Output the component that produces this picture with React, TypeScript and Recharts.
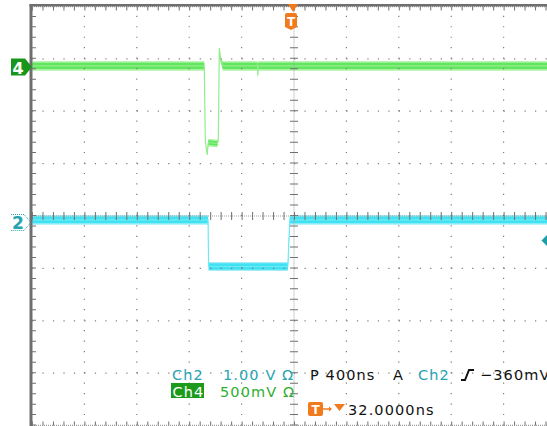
import { ComposedChart, Line, Area, XAxis, YAxis, ReferenceLine } from "recharts";

// Horizontal: 400 ns/div, trigger 32 ns right of centre -> 10 divisions from -1968 to 2032 ns
const TIME_DOMAIN: [number, number] = [-1968, 2032];
const MINOR = 10.48; // px between graticule dots (1/5 div)

// Ch4, 500 mV/div, ground marker 2.844 div above centre
const CH4_VPD = 0.5;
const CH4_POS = 2.844;
const ch4Time = [-1968, -653, -645, -631, -622, -553, -546, -538, -527, -511, -246, -244, -242, 2032];
const ch4Volts = [0.01, 0.01, -0.7, -0.84, -0.72, -0.73, -0.7, 0.18, 0.06, 0.01, 0.01, -0.08, 0.01, 0.01];
const ch4Fuzz = [0.045, 0.045, 0, 0, 0.036, 0.036, 0, 0, 0.02, 0.045, 0.045, 0.045, 0.045, 0.045];
const ch4Core = [0.03, 0.03, 0, 0, 0.022, 0.022, 0, 0, 0.01, 0.03, 0.03, 0.03, 0.03, 0.03];

// Ch2, 1.00 V/div, ground marker 0.134 div below centre
const CH2_VPD = 1;
const CH2_POS = -0.134;
const ch2Time = [-1968, -624, -620, -15, 0, 2032];
const ch2Volts = [0.06, 0.06, -0.83, -0.83, 0.06, 0.06];
const ch2Fuzz = [0.095, 0.095, 0.085, 0.085, 0.095, 0.095];
const ch2Core = [0.065, 0.065, 0.06, 0.06, 0.065, 0.065];

// graticule
const majorTimes = [-1568, -1168, -768, -368, 432, 832, 1232, 1632];
const majorDivs = [-3, -2, -1, 1, 2, 3];
const centreTime = 32;

const rows = (t: number[], v: number[], fz: number[], cr: number[]) =>
  t.map((x, i) => ({
    t: x,
    v: v[i],
    fuzz: [v[i] - fz[i], v[i] + fz[i]],
    core: [v[i] - cr[i], v[i] + cr[i]],
  }));

const ch4Rows = rows(ch4Time, ch4Volts, ch4Fuzz, ch4Core);
const ch2Rows = rows(ch2Time, ch2Volts, ch2Fuzz, ch2Core);

const domainFor = (pos: number, vpd: number): [number, number] => [(-4 - pos) * vpd, (4 - pos) * vpd];

const DOTS = `1.2 ${MINOR - 1.2}`;
const TICKS = `1 ${MINOR - 1}`;
const TEAL = "#27a4b2";
const GREEN = "#2fae2f";
const ORANGE = "#f07a1c";
const font = { fontFamily: "DejaVu Sans", fontSize: 14.5, letterSpacing: 1.1 };

export default function App() {
  return (
    <div style={{ position: "absolute", left: 0, top: 0, width: 547, height: 426, overflow: "hidden", background: "#fff" }}>
      <ComposedChart width={560} height={432} margin={{ top: 6.4, right: 4, bottom: 6.4, left: 32 }}>
        <XAxis type="number" dataKey="t" domain={TIME_DOMAIN} allowDataOverflow hide />
        <YAxis yAxisId="div" type="number" domain={[-4, 4]} allowDataOverflow hide />
        <YAxis yAxisId="ch2" type="number" domain={domainFor(CH2_POS, CH2_VPD)} allowDataOverflow hide />
        <YAxis yAxisId="ch4" type="number" domain={domainFor(CH4_POS, CH4_VPD)} allowDataOverflow hide />

        {/* traces: soft fuzz, thin edge line, bright core */}
        <Area data={ch4Rows} yAxisId="ch4" dataKey="fuzz" type="linear" stroke="none" fill="#a9f3a3" fillOpacity={1} isAnimationActive={false} dot={false} activeDot={false} />
        <Line data={ch4Rows} yAxisId="ch4" dataKey="v" type="linear" stroke="#92ee8c" strokeWidth={1.2} dot={false} activeDot={false} isAnimationActive={false} />
        <Area data={ch4Rows} yAxisId="ch4" dataKey="core" type="linear" stroke="none" fill="#62e55f" fillOpacity={1} isAnimationActive={false} dot={false} activeDot={false} />

        <Area data={ch2Rows} yAxisId="ch2" dataKey="fuzz" type="linear" stroke="none" fill="#a5eef7" fillOpacity={1} isAnimationActive={false} dot={false} activeDot={false} />
        <Line data={ch2Rows} yAxisId="ch2" dataKey="v" type="linear" stroke="#6fe9f5" strokeWidth={1.2} dot={false} activeDot={false} isAnimationActive={false} />
        <Area data={ch2Rows} yAxisId="ch2" dataKey="core" type="linear" stroke="none" fill="#40e2f2" fillOpacity={1} isAnimationActive={false} dot={false} activeDot={false} />

        {/* dotted major divisions */}
        {majorTimes.map((t) => (
          <ReferenceLine key={"vx" + t} x={t} yAxisId="div" stroke="#7c7c7c" strokeWidth={1.2} strokeDasharray={DOTS} />
        ))}
        {majorDivs.map((d) => (
          <ReferenceLine key={"hy" + d} y={d} yAxisId="div" stroke="#7c7c7c" strokeWidth={1.2} strokeDasharray={DOTS} />
        ))}

        {/* centre crosshair with minor ticks */}
        <ReferenceLine x={centreTime} yAxisId="div" stroke="#a0a0a0" strokeWidth={1} strokeDasharray="1 1" />
        <ReferenceLine x={centreTime} yAxisId="div" stroke="#707070" strokeWidth={8} strokeDasharray={TICKS} />
        <ReferenceLine y={0} yAxisId="div" stroke="#a0a0a0" strokeWidth={1} strokeDasharray="1 1" />
        <ReferenceLine y={0} yAxisId="div" stroke="#707070" strokeWidth={8} strokeDasharray={TICKS} />

        {/* edge ticks */}
        <ReferenceLine y={4} yAxisId="div" stroke="#9a9a9a" strokeWidth={1.5} strokeDasharray="1 1" />
        <ReferenceLine y={3.962} yAxisId="div" stroke="#707070" strokeWidth={4} strokeDasharray={TICKS} />
        <ReferenceLine y={-3.962} yAxisId="div" stroke="#707070" strokeWidth={4} strokeDasharray={TICKS} />
        <ReferenceLine y={-4} yAxisId="div" stroke="#9a9a9a" strokeWidth={1.5} strokeDasharray="1 1" />
        <ReferenceLine x={TIME_DOMAIN[0]} yAxisId="div" stroke="#9a9a9a" strokeWidth={1.5} strokeDasharray="1 1" />
        <ReferenceLine x={TIME_DOMAIN[0] + 15.3} yAxisId="div" stroke="#707070" strokeWidth={4} strokeDasharray={TICKS} />
      </ComposedChart>

      <svg width={547} height={426} style={{ position: "absolute", left: 0, top: 0, pointerEvents: "none" }}>
        {/* frame */}
        <rect x={29.5} y={4} width={2.8} height={422} fill="#6e6e6e" />
        <rect x={29.5} y={4} width={518} height={2.5} fill="#6e6e6e" />

        {/* channel 4 marker */}
        <path d="M11,58.5 L25,58.5 L32,67 L25,75.5 L11,75.5 Z" fill="#18961b" />
        <text x={18} y={73.5} textAnchor="middle" fill="#fff" fontFamily="DejaVu Sans" fontSize={16} fontWeight="bold">4</text>

        {/* channel 2 marker */}
        <polyline points="11,214.5 24,214.5 31,222.5 24,230.5 11,230.5" fill="none" stroke={TEAL} strokeWidth={1} strokeDasharray="1 1" />
        <text x={18} y={229} textAnchor="middle" fill={TEAL} fontFamily="DejaVu Sans" fontSize={17} fontWeight="bold">2</text>

        {/* trigger position */}
        <path d="M288,4 L298,4 L293,12 Z" fill={ORANGE} />
        <path d="M285,15 Q285,13 287,13 L295,13 Q297,13 297,15 L297,27 L291,30 L285,27 Z" fill={ORANGE} />
        <text x={291} y={26} textAnchor="middle" fill="#fff" fontFamily="DejaVu Sans" fontSize={12} fontWeight="bold">T</text>

        {/* trigger level */}
        <path d="M541.5,240.5 L547,235 L547,246 Z" fill="#1c9ea8" />

        {/* readouts */}
        <g style={font}>
          <text x={172} y={380} fill={TEAL}>Ch2</text>
          <text x={223} y={380} fill={TEAL}>1.00 V Ω</text>
          <text x={310} y={380} fill="#111">P 400ns</text>
          <text x={393} y={380} fill="#111">A</text>
          <text x={418} y={380} fill={TEAL}>Ch2</text>
          <text x={480} y={380} fill="#111">−360mV</text>

          <rect x={171} y={383} width={33} height={15} fill="#1c9a1c" />
          <text x={172.5} y={397} fill="#fff">Ch4</text>
          <text x={220} y={397} fill={GREEN}>500mV Ω</text>

          <text x={348} y={415} fill="#111">32.0000ns</text>
        </g>
        <polyline points="461,380 465,380 469,370 474,370" fill="none" stroke="#111" strokeWidth={2} />

        <rect x={308} y={402} width={15} height={14} rx={2} fill={ORANGE} />
        <text x={315.5} y={414} textAnchor="middle" fill="#fff" fontFamily="DejaVu Sans" fontSize={12} fontWeight="bold">T</text>
        <line x1={323} y1={409} x2={331} y2={409} stroke={ORANGE} strokeWidth={1.5} />
        <path d="M329,406.5 L332,409 L329,411.5 Z" fill={ORANGE} />
        <path d="M334,404 L345,404 L339.5,411 Z" fill={ORANGE} />
      </svg>
    </div>
  );
}
